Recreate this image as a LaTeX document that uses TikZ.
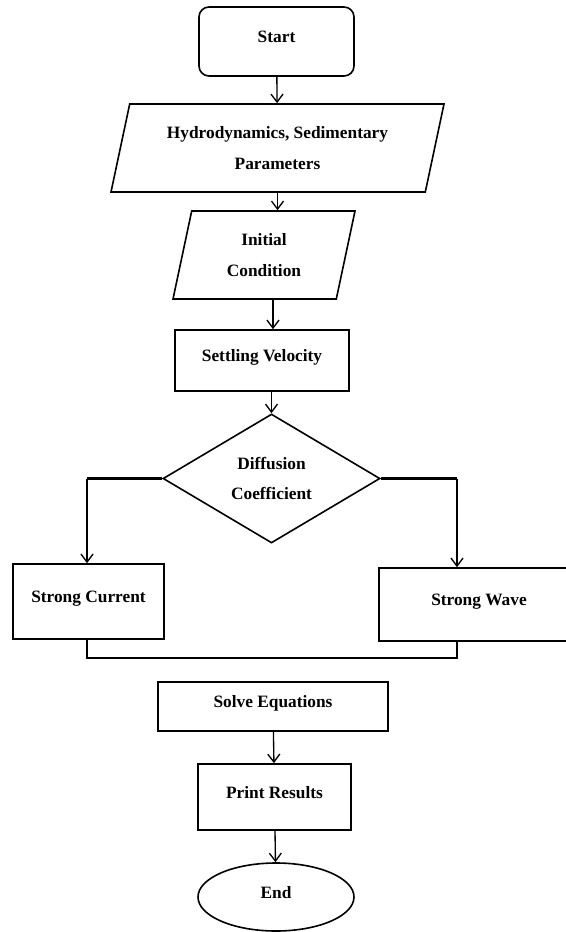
\documentclass[tikz,border=0pt]{standalone}
\usepackage{fontspec}
\setmainfont{Liberation Serif}
\usetikzlibrary{shapes.geometric,arrows.meta}

\tikzset{every picture/.style={line width=1.2pt}}

\begin{document}
\begin{tikzpicture}[x=0.75pt,y=0.75pt,yscale=-1,xscale=1,
  box/.style={draw,inner sep=0pt,font=\fontsize{13}{23}\selectfont\bfseries},
  lift/.style={text height=9pt,text depth=7.2pt},
  io/.style={box,trapezium,trapezium left angle=77,trapezium right angle=103,trapezium stretches body,inner ysep=14.3pt,align=center},
  arr/.style={-{Straight Barb[length=6pt,width=9pt]},line width=1pt},
  bus/.style={line width=2pt}]
\useasboundingbox (0,0) rectangle (566,932);

%Flow boxes
\node[box,lift,rounded corners=7.5pt,minimum width=116.25pt,minimum height=51.75pt] (start) at (276.5,41.5) {Start};
\node[io,minimum width=249.75pt,minimum height=66pt] (hydro) at (277.5,148) {Hydrodynamics, Sedimentary\\Parameters};
\node[io,minimum width=136.5pt,minimum height=66pt] (init) at (264,255) {Initial\\Condition};
\node[box,lift,minimum width=130.5pt,minimum height=45.75pt] (settle) at (262,360.5) {Settling Velocity};
\node[box,diamond,aspect=1.68,align=center,minimum width=162.75pt,minimum height=96.75pt] (diff) at (271.5,478.5) {Diffusion\\Coefficient};
\node[box,lift,minimum width=113.25pt,minimum height=56.25pt] (current) at (88.5,601.5) {Strong Current};
\node[box,lift,minimum width=150pt,minimum height=54.75pt] (wave) at (479,604.5) {Strong Wave\hspace{34.5pt}};
\node[box,lift,minimum width=172.5pt,minimum height=36.75pt] (solve) at (273,706.5) {Solve Equations};
\node[box,lift,minimum width=114.75pt,minimum height=49.5pt] (print) at (274.5,797) {Print Results};
\node[box,lift,ellipse,minimum width=117pt,minimum height=51pt] (stop) at (276,897) {End};

%Branch corners
\coordinate (spine) at (273,0);
\coordinate (lc) at (87,478.5);
\coordinate (rc) at (457,478.5);
\coordinate (lb) at (87,658);
\coordinate (rb) at (457,658);

%Connectors
\draw[arr] (start) -- (hydro);
\draw[arr] (hydro.south) -- (hydro.south |- init.north);
\draw[arr] (init.south -| spine) -- (settle.north -| spine);
\draw[arr] (settle.south -| diff.north) -- (diff.north);
\draw[bus] (diff.west) -- (lc);
\draw[arr] (lc) -- (lc |- current.north);
\draw[bus] (diff.east) -- (rc);
\draw[arr] (rc) -- (rc |- wave.north);
\draw[bus] (lc |- current.south) -- (lb) -- (rb) -- (rb |- wave.south);
\draw[arr] (solve) -- (print);
\draw[arr] (print) -- (stop);

\end{tikzpicture}
\end{document}
